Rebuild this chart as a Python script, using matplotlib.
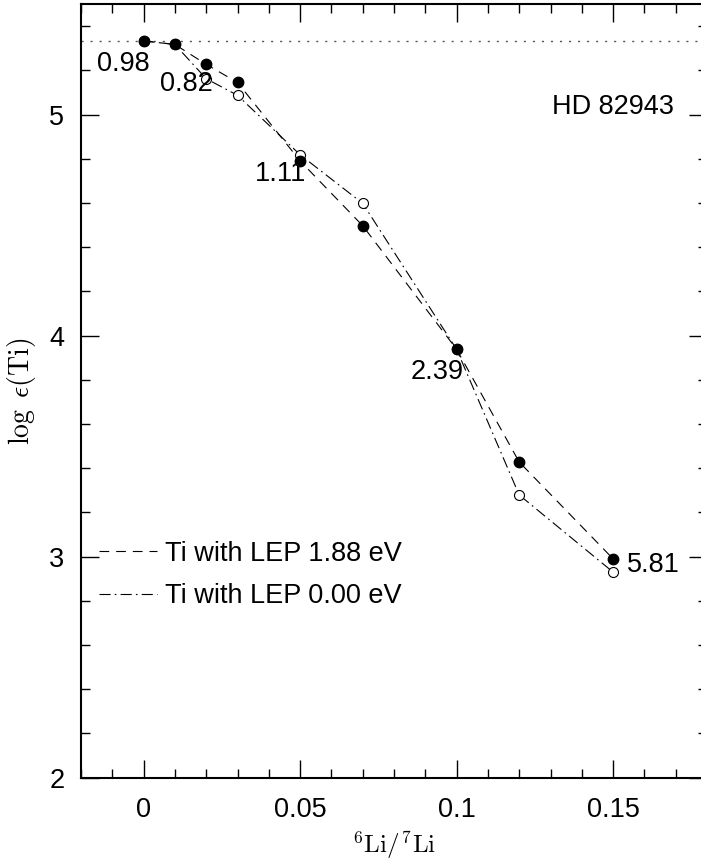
import matplotlib
matplotlib.use("Agg")
import matplotlib.pyplot as plt
from matplotlib.ticker import MultipleLocator, FuncFormatter
from matplotlib.lines import Line2D

plt.rcParams['font.family'] = ['Liberation Sans', 'DejaVu Sans']
plt.rcParams['mathtext.fontset'] = 'cm'
plt.rcParams['lines.scale_dashes'] = False

# data
ratio = [0.0, 0.01, 0.02, 0.03, 0.05, 0.07, 0.10, 0.12, 0.15]
ti_188 = [5.333, 5.317, 5.227, 5.145, 4.79, 4.497, 3.938, 3.428, 2.99]
ti_000 = [5.333, 5.317, 5.162, 5.087, 4.818, 4.598, 3.938, 3.279, 2.93]
ref_level = 5.333
chi2_labels = ["0.98", "0.82", "1.11", "2.39", "5.81"]
star = "HD 82943"
legend_labels = ["Ti with LEP 1.88 eV", "Ti with LEP 0.00 eV"]

W, H = 701, 863
fig = plt.figure(figsize=(W / 100, H / 100), dpi=100)
left, right, top, bottom = 81, 707, 4, 777.7
ax = fig.add_axes([left / W, (H - bottom) / H, (right - left) / W, (bottom - top) / H])

ax.set_xlim(-0.02, 0.18)
ax.set_ylim(2, 5.5)

ax.axhline(ref_level, color='#555555', lw=1.0, dashes=(1.5, 5))

dash_a = (7, 5)
dash_b = (8, 3, 1.2, 3)
ax.plot(ratio, ti_000, color='black', lw=0.8, dashes=dash_b,
        marker='o', ms=7.2, mfc='white', mec='black', mew=0.8)
ax.plot(ratio, ti_188, color='black', lw=0.8, dashes=dash_a,
        marker='o', ms=7.5, mfc='black', mec='black')

fs = 19.5
lab_pos = [(-0.0064, 5.230), (0.0137, 5.140), (0.0437, 4.733), (0.0938, 3.835), (0.1628, 2.964)]
for t, (xx, yy) in zip(chi2_labels, lab_pos):
    ax.text(xx, yy, t, fontsize=fs, ha='center', va='center')
ax.text(0.150, 5.035, star, fontsize=fs, ha='center', va='center')

h1 = Line2D([], [], color='black', lw=0.8, dashes=dash_a)
h2 = Line2D([], [], color='black', lw=0.8, dashes=dash_b)
ax.legend([h1, h2], legend_labels, loc='center left', bbox_to_anchor=(0.02, 0.262),
          frameon=False, fontsize=fs, handlelength=2.15, handletextpad=0.3,
          labelspacing=0.6, borderaxespad=0.0, borderpad=0.2)

ax.xaxis.set_major_locator(MultipleLocator(0.05))
ax.xaxis.set_minor_locator(MultipleLocator(0.01))
ax.yaxis.set_major_locator(MultipleLocator(1))
ax.yaxis.set_minor_locator(MultipleLocator(0.2))
ax.xaxis.set_major_formatter(FuncFormatter(lambda v, p: ('%g' % round(v, 4))))
ax.yaxis.set_major_formatter(FuncFormatter(lambda v, p: ('%g' % round(v, 4))))

ax.tick_params(which='both', direction='in', top=True, right=True, width=1.0)
ax.tick_params(which='major', length=13, labelsize=fs)
ax.tick_params(which='minor', length=6.5)
ax.tick_params(axis='x', which='major', pad=14)
ax.tick_params(axis='y', which='major', pad=12)
for s in ax.spines.values():
    s.set_linewidth(1.5)

ax.set_xlabel(r'$^{6}\mathrm{Li}/^{7}\mathrm{Li}$', fontsize=18, labelpad=4)
ax.set_ylabel(r'$\log\ \epsilon(\mathrm{Ti})$', fontsize=20, labelpad=8)

fig.savefig('out.png', dpi=100)
